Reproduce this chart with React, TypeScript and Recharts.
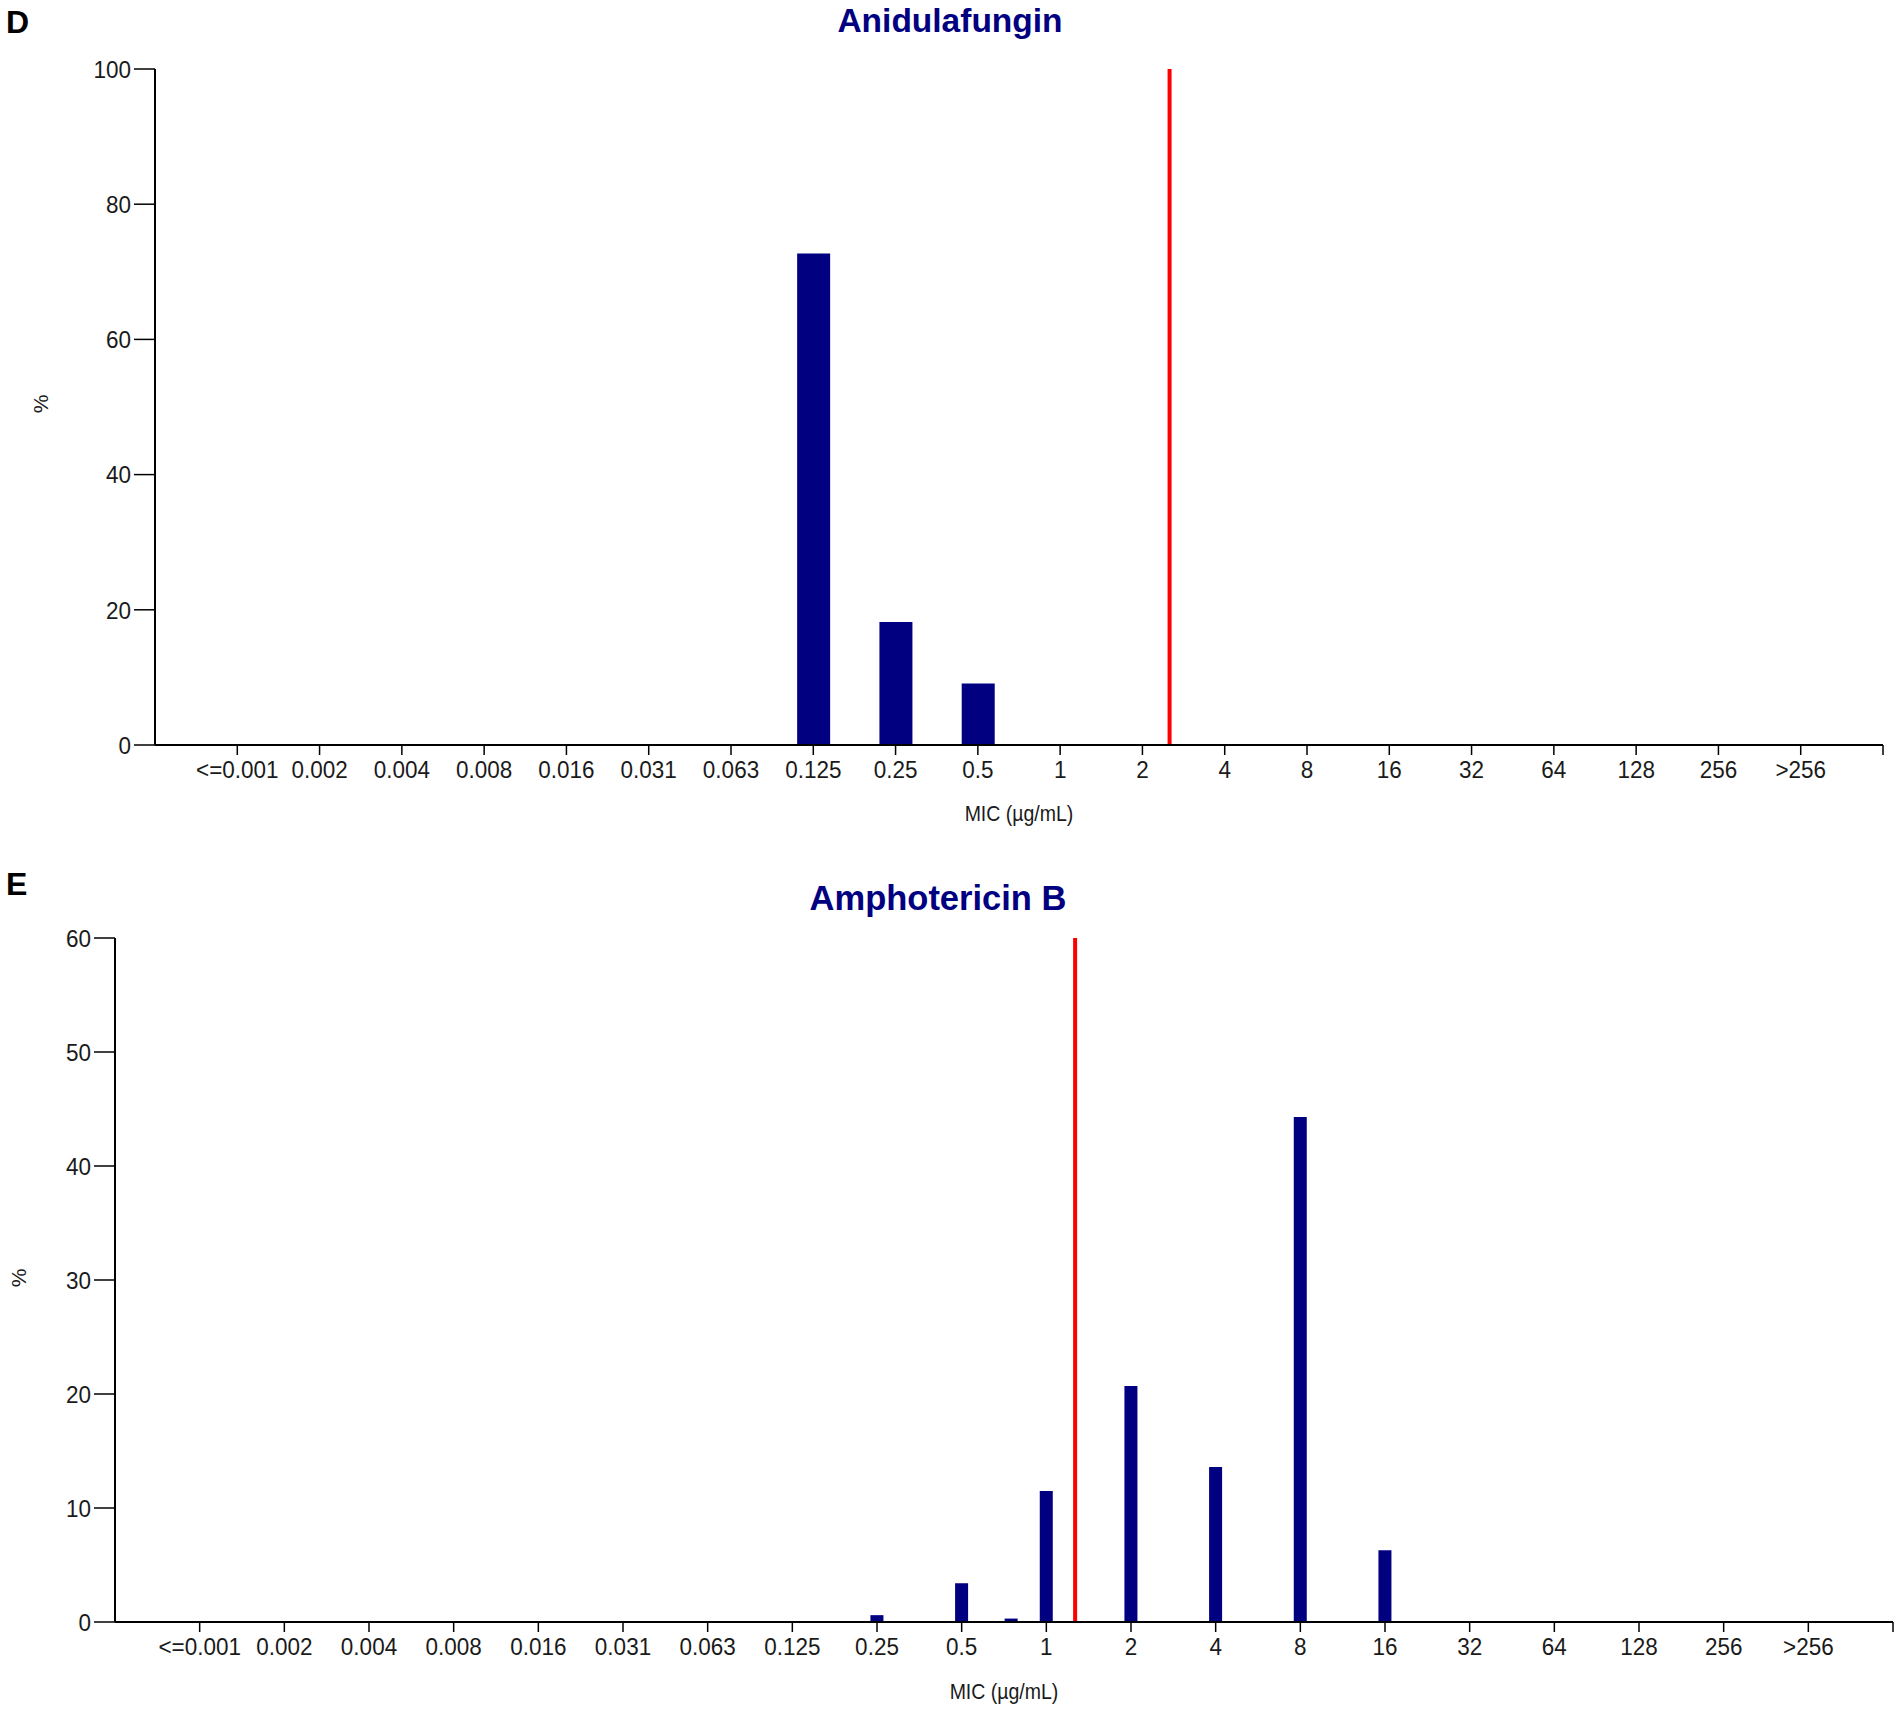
import React from 'react';
import { BarChart, Bar, XAxis, YAxis, ReferenceLine } from 'recharts';

// ---- data ----
const micLabels = ['<=0.001', '0.002', '0.004', '0.008', '0.016', '0.031', '0.063', '0.125', '0.25', '0.5', '1', '2', '4', '8', '16', '32', '64', '128', '256', '>256'];

const anidulafunginPct = [0, 0, 0, 0, 0, 0, 0, 72.7, 18.2, 9.1, 0, 0, 0, 0, 0, 0, 0, 0, 0, 0];
const anidulafunginCutoffPos = 11.33;

const amphotericinPct = [0, 0, 0, 0, 0, 0, 0, 0, 0.6, 3.4, 11.5, 20.7, 13.6, 44.3, 6.3, 0, 0, 0, 0, 0];
// intermediate dilution between 0.5 and 1
const amphotericinExtraMic = [0.75];
const amphotericinExtraPct = [0.3];
const amphotericinCutoffPos = 10.34;

const anidulafunginTicks = [0, 20, 40, 60, 80, 100];
const amphotericinTicks = [0, 10, 20, 30, 40, 50, 60];

// ---- derived tables ----
const indexOfOne = micLabels.indexOf('1');
const anidulafunginData = micLabels.map((label, i) => ({ pos: i, label, pct: anidulafunginPct[i] }));
const amphotericinData = [
  ...micLabels.map((label, i) => ({ pos: i, label, pct: amphotericinPct[i] })),
  ...amphotericinExtraMic.map((m, i) => ({ pos: indexOfOne + Math.log2(m), label: String(m), pct: amphotericinExtraPct[i] })),
].sort((a, b) => a.pos - b.pos);

const xTicks = [...micLabels.map((_, i) => i), micLabels.length];
const fmtX = (v: number) => (micLabels[v] !== undefined ? micLabels[v] : '');

const FONT = "'Liberation Sans', Arial, sans-serif";
const NAVY = '#000080';
const TEXT = '#1a1a1a';
const TICK_FS = 22.5;

function XTick(props: any) {
  const { x, y, payload } = props;
  return (
    <g transform={`translate(${x},${y})`}>
      <text transform="scale(1,1.1)" textAnchor="middle" dy="0.71em" fontSize={TICK_FS} fontFamily={FONT} fill={TEXT}>
        {fmtX(payload.value)}
      </text>
    </g>
  );
}

function YTick(props: any) {
  const { x, y, payload } = props;
  return (
    <g transform={`translate(${x},${y})`}>
      <text transform="scale(1,1.1)" textAnchor="end" dy="0.355em" fontSize={TICK_FS} fontFamily={FONT} fill={TEXT}>
        {payload.value}
      </text>
    </g>
  );
}

function Panel(props: {
  top: number;
  height: number;
  data: { pos: number; pct: number }[];
  yTicks: number[];
  yMax: number;
  yAxisWidth: number;
  plotTop: number;
  plotBottom: number;
  rightMargin: number;
  barSize: number;
  cutoff: number;
}) {
  const xAxisH = 50;
  return (
    <div style={{ position: 'absolute', left: 0, top: props.top }}>
      <BarChart
        width={1902}
        height={props.height}
        data={props.data}
        margin={{ top: props.plotTop, right: props.rightMargin, left: 0, bottom: props.height - props.plotBottom - xAxisH }}
      >
        <XAxis
          dataKey="pos"
          type="number"
          domain={[-1, micLabels.length]}
          ticks={xTicks}
          interval={0}
          tickFormatter={fmtX}
          allowDataOverflow
          height={xAxisH}
          tickSize={10}
          tickMargin={5}
          tick={<XTick />}
          axisLine={{ stroke: '#000', strokeWidth: 2 }}
          tickLine={{ stroke: '#000', strokeWidth: 1.5 }}
        />
        <YAxis
          type="number"
          domain={[0, props.yMax]}
          ticks={props.yTicks}
          interval={0}
          width={props.yAxisWidth}
          tickSize={21}
          tickMargin={3}
          tick={<YTick />}
          axisLine={{ stroke: '#000', strokeWidth: 2 }}
          tickLine={{ stroke: '#000', strokeWidth: 1.5 }}
        />
        <Bar dataKey="pct" fill={NAVY} barSize={props.barSize} isAnimationActive={false} />
        <ReferenceLine x={props.cutoff} stroke="#ff0000" strokeWidth={4} ifOverflow="extendDomain" />
      </BarChart>
    </div>
  );
}

const abs = (left: number, top: number, extra: React.CSSProperties = {}): React.CSSProperties => ({
  position: 'absolute',
  left,
  top,
  fontFamily: FONT,
  whiteSpace: 'nowrap',
  lineHeight: 1,
  ...extra,
});

export default function App() {
  return (
    <div style={{ position: 'absolute', left: 0, top: 0, width: 1902, height: 1713, background: '#fff', overflow: 'hidden' }}>
      <Panel
        top={0}
        height={860}
        data={anidulafunginData}
        yTicks={anidulafunginTicks}
        yMax={100}
        yAxisWidth={155}
        plotTop={69}
        plotBottom={745}
        rightMargin={19}
        barSize={33}
        cutoff={anidulafunginCutoffPos}
      />
      <Panel
        top={860}
        height={853}
        data={amphotericinData}
        yTicks={amphotericinTicks}
        yMax={60}
        yAxisWidth={115}
        plotTop={78}
        plotBottom={762}
        rightMargin={9}
        barSize={13}
        cutoff={amphotericinCutoffPos}
      />

      <div style={abs(6, 6, { fontSize: 32, fontWeight: 700, color: '#000' })}>D</div>
      <div style={abs(6, 868, { fontSize: 32, fontWeight: 700, color: '#000' })}>E</div>

      <div style={abs(950, 21, { fontSize: 33.5, fontWeight: 700, color: NAVY, transform: 'translate(-50%, -50%)' })}>Anidulafungin</div>
      <div style={abs(938, 898, { fontSize: 34.5, fontWeight: 700, color: NAVY, transform: 'translate(-50%, -50%)' })}>Amphotericin B</div>

      <div style={abs(1019, 814, { fontSize: 19.5, color: TEXT, transform: 'translate(-50%, -50%) scaleY(1.1)' })}>MIC (µg/mL)</div>
      <div style={abs(1004, 1692, { fontSize: 19.5, color: TEXT, transform: 'translate(-50%, -50%) scaleY(1.1)' })}>MIC (µg/mL)</div>

      <div style={abs(40, 404, { fontSize: 21, color: TEXT, transform: 'translate(-50%, -50%) rotate(-90deg)' })}>%</div>
      <div style={abs(18, 1278, { fontSize: 21, color: TEXT, transform: 'translate(-50%, -50%) rotate(-90deg)' })}>%</div>
    </div>
  );
}
